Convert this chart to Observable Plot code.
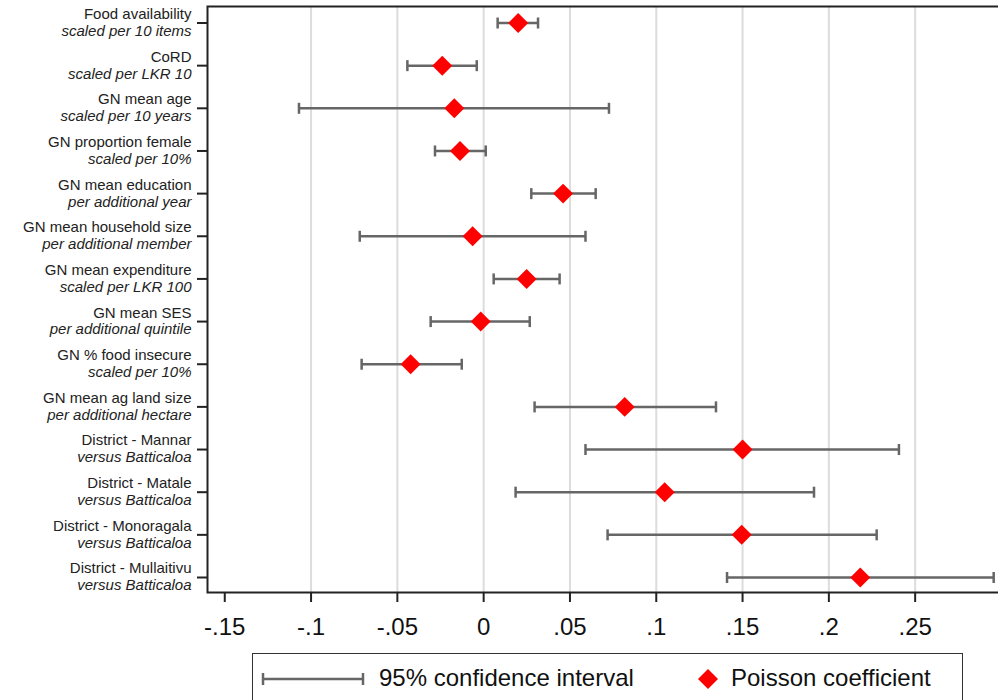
<!DOCTYPE html>
<html>
<head>
<meta charset="utf-8">
<script src="https://cdn.jsdelivr.net/npm/d3@7"></script>
<script src="https://cdn.jsdelivr.net/npm/@observablehq/plot@0.6"></script>
<style>
  html, body { margin: 0; padding: 0; background: #fff; overflow: hidden; }
  #wrap { position: relative; width: 998px; height: 700px; overflow: hidden; font-family: "Liberation Sans", Arial, sans-serif; }
  #wrap > svg { max-width: none !important; width: 1004px !important; height: 648px !important; display: block; }
  #legend { position: absolute; left: 252px; top: 653px; width: 711px; height: 60px; border: 1.5px solid #333; box-sizing: border-box; color: #111; }
  #legend .txt { position: absolute; top: 11px; font-size: 24px; line-height: 26px; white-space: nowrap; }
  #legend svg { position: absolute; }
</style>
</head>
<body>
<div id="wrap"></div>
<script>
const labels = [
  "Food availability", "CoRD", "GN mean age", "GN proportion female",
  "GN mean education", "GN mean household size", "GN mean expenditure",
  "GN mean SES", "GN % food insecure", "GN mean ag land size",
  "District - Mannar", "District - Matale", "District - Monoragala", "District - Mullaitivu"
];
const sublabels = [
  "scaled per 10 items", "scaled per LKR 10", "scaled per 10 years", "scaled per 10%",
  "per additional year", "per additional member", "scaled per LKR 100",
  "per additional quintile", "scaled per 10%", "per additional hectare",
  "versus Batticaloa", "versus Batticaloa", "versus Batticaloa", "versus Batticaloa"
];
const coef = [0.020, -0.024, -0.017, -0.0137, 0.046, -0.0064, 0.0249, -0.0017, -0.0423, 0.0817, 0.150, 0.1049, 0.1495, 0.2182];
const lower = [0.0081, -0.0442, -0.107, -0.0282, 0.0276, -0.0718, 0.0058, -0.0307, -0.0707, 0.0295, 0.059, 0.0185, 0.0718, 0.141];
const upper = [0.0315, -0.004, 0.0726, 0.0012, 0.0649, 0.059, 0.044, 0.0267, -0.0127, 0.1346, 0.2406, 0.1914, 0.2277, 0.2955];
const xTicks = [-0.15, -0.1, -0.05, 0, 0.05, 0.1, 0.15, 0.2, 0.25];
const gridTicks = [-0.1, -0.05, 0, 0.05, 0.1, 0.15, 0.2, 0.25];

const data = labels.map((l, i) => ({label: l, sub: sublabels[i], both: l + "\n" + sublabels[i], coef: coef[i], lo: lower[i], hi: upper[i]}));

const capSymbol = {
  draw(context, size) {
    context.moveTo(0, -5.5);
    context.lineTo(0, 5.5);
  }
};

const fmt = d => d === 0 ? "0" : String(d).replace(/^(-?)0\./, "$1.");

const chart = Plot.plot({
  width: 1004,
  height: 648,
  marginLeft: 207,
  marginRight: 0,
  marginTop: 6,
  marginBottom: 56,
  style: {fontFamily: '"Liberation Sans", Arial, sans-serif', background: "#fff", color: "#222"},
  x: {domain: [-0.16, -0.16 + (1004 - 207) / 1726]},
  y: {type: "point", domain: labels, range: [22.5, 577], padding: 0, round: false},
  marks: [
    Plot.gridX(gridTicks, {stroke: "#dcdcdc", strokeOpacity: 1, strokeWidth: 2}),
    Plot.frame({stroke: "#222", strokeWidth: 2}),
    Plot.axisX(xTicks, {tickSize: 10, tickPadding: 15, fontSize: 24, tickFormat: fmt, label: null, stroke: "#222", strokeWidth: 2, fill: "#111"}),
    Plot.axisY({tickSize: 10, tickFormat: () => "", label: null, stroke: "#222", strokeWidth: 2}),
    Plot.text(data, {y: "label", text: "both", frameAnchor: "left", textAnchor: "end", dx: -16, dy: -1, lineHeight: 1.13, fontSize: 15, fill: "#222", className: "ylab"}),
    Plot.ruleY(data, {y: "label", x1: "lo", x2: "hi", stroke: "#666", strokeWidth: 2.5}),
    Plot.dot(data, {x: "lo", y: "label", symbol: capSymbol, fill: "none", stroke: "#666", strokeWidth: 2.5}),
    Plot.dot(data, {x: "hi", y: "label", symbol: capSymbol, fill: "none", stroke: "#666", strokeWidth: 2.5}),
    Plot.dot(data, {x: "coef", y: "label", symbol: "diamond2", fill: "red", stroke: "none", r: 9})
  ]
});

chart.querySelectorAll(".ylab text").forEach(t => {
  const spans = t.querySelectorAll("tspan");
  if (spans.length > 1) spans[1].setAttribute("font-style", "italic");
});
chart.style.maxWidth = "none";

const wrap = document.getElementById("wrap");
wrap.appendChild(chart);

const legend = document.createElement("div");
legend.id = "legend";
legend.innerHTML = `
  <svg style="left:8px;top:17px" width="104" height="16">
    <line x1="2" y1="8" x2="102" y2="8" stroke="#666" stroke-width="2.5"/>
    <line x1="2" y1="2" x2="2" y2="14" stroke="#666" stroke-width="2.5"/>
    <line x1="102" y1="2" x2="102" y2="14" stroke="#666" stroke-width="2.5"/>
  </svg>
  <span class="txt" style="left:126px">95% confidence interval</span>
  <svg style="left:443px;top:13px" width="24" height="24">
    <path d="M12,2 L22,12 L12,22 L2,12 Z" fill="red"/>
  </svg>
  <span class="txt" style="left:478px">Poisson coefficient</span>
`;
wrap.appendChild(legend);
</script>
</body>
</html>
